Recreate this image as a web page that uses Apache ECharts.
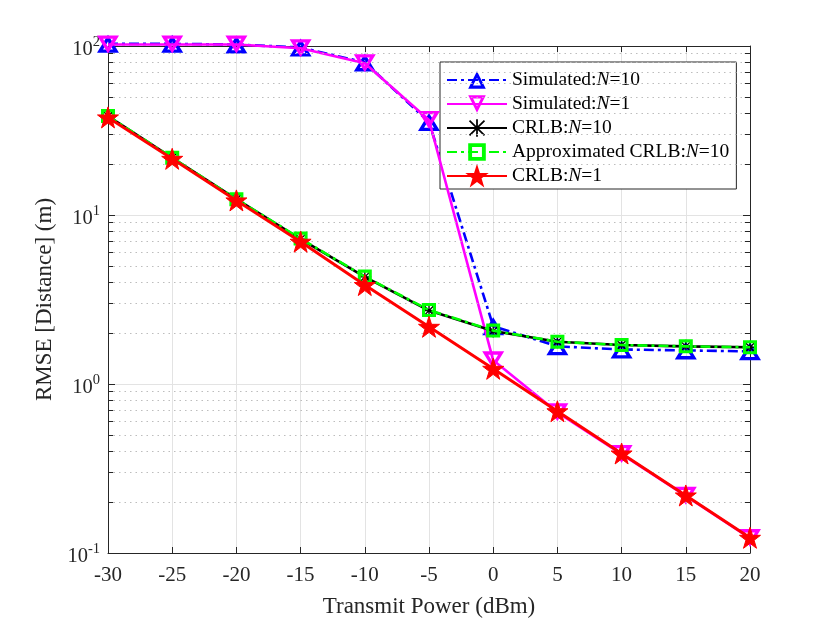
<!DOCTYPE html>
<html>
<head>
<meta charset="utf-8">
<title>RMSE vs Transmit Power</title>
<script src="https://cdn.jsdelivr.net/npm/echarts@6/dist/echarts.min.js"></script>
<style>
  html, body { margin: 0; padding: 0; background: #fff; }
  #chart { width: 830px; height: 623px; }
</style>
</head>
<body>
<div id="chart"></div>
<script>
// transmit power (dBm)
var xPower = [-30, -25, -20, -15, -10, -5, 0, 5, 10, 15, 20];
// RMSE values (m)
var simN10 = [103, 103, 102, 98, 80, 35.5, 2.2, 1.67, 1.6, 1.58, 1.56];
var simN1 = [102, 102, 102, 97, 79, 36.5, 1.38, 0.68, 0.385, 0.218, 0.1225];
var crlbN10 = [38.5, 21.8, 12.4, 7.2, 4.3, 2.72, 2.06, 1.78, 1.7, 1.67, 1.65];
var approxN10 = [38.5, 21.8, 12.4, 7.25, 4.32, 2.74, 2.07, 1.78, 1.7, 1.67, 1.65];
var crlbN1 = [37.8, 21.5, 12.2, 6.95, 3.85, 2.18, 1.23, 0.69, 0.388, 0.219, 0.123];
// minor log grid values
var minorGrid = [0.2, 0.3, 0.4, 0.5, 0.6, 0.7, 0.8, 0.9, 2, 3, 4, 5, 6, 7, 8, 9, 20, 30, 40, 50, 60, 70, 80, 90];
var xMin = -30, xMax = 20;

var FONT = '"Liberation Serif", "DejaVu Serif", serif';
// hollow markers (outer outline + reversed inner = hole)
var TRI_UP = 'path://M50,0 L100,86.6 L0,86.6 Z M50,31.75 L27.5,70.7 L72.5,70.7 Z';
var TRI_DOWN = 'path://M0,0 L100,0 L50,86.6 Z M27.5,15.9 L50,54.85 L72.5,15.9 Z';
var SQUARE = 'path://M0,0 L100,0 L100,100 L0,100 Z M22,22 L22,78 L78,78 L78,22 Z';
var STAR = 'path://M50,0 L61.8,35.4 L99,35.4 L69,57.3 L80.4,92.7 L50,70.8 L19.6,92.7 L31,57.3 L1,35.4 L38.2,35.4 Z';
var ASTER = 'path://M0,4.5 L10,4.5 L10,5.5 L0,5.5 Z M4.5,0 L5.5,0 L5.5,10 L4.5,10 Z M1.1,0.4 L9.6,8.9 L8.9,9.6 L0.4,1.1 Z M8.9,0.4 L9.6,1.1 L1.1,9.6 L0.4,8.9 Z';

function pairs(vals) {
  return xPower.map(function (x, i) { return [x, vals[i]]; });
}

var legendRich = {
  n: { fontFamily: FONT, fontSize: 19.5, color: '#000' },
  i: { fontFamily: FONT, fontSize: 19.5, fontStyle: 'italic', color: '#000' }
};
var legendText = {
  'Simulated:N=10': '{n|Simulated:}{i|N}{n|=10}',
  'Simulated:N=1': '{n|Simulated:}{i|N}{n|=1}',
  'CRLB:N=10': '{n|CRLB:}{i|N}{n|=10}',
  'Approximated CRLB:N=10': '{n|Approximated CRLB:}{i|N}{n|=10}',
  'CRLB:N=1': '{n|CRLB:}{i|N}{n|=1}'
};

// short inside ticks for minor log values on left and right
var minorTicks = [];
minorGrid.forEach(function (v) {
  minorTicks.push([{ coord: [xMin, v] }, { coord: [xMin + 0.4, v] }]);
  minorTicks.push([{ coord: [xMax, v] }, { coord: [xMax - 0.4, v] }]);
});

var chart = echarts.init(document.getElementById('chart'));
var option = {
  backgroundColor: '#fff',
  animation: false,
  grid: { left: 108, right: 80, top: 46, bottom: 69 },
  legend: {
    left: 440, top: 62,
    orient: 'vertical',
    backgroundColor: '#fff',
    borderColor: '#262626', borderWidth: 1, borderRadius: 0,
    padding: [8, 7, 3, 6],
    itemWidth: 60, itemHeight: 22, itemGap: 4,
    data: ['Simulated:N=10', 'Simulated:N=1', 'CRLB:N=10', 'Approximated CRLB:N=10', 'CRLB:N=1'],
    formatter: function (name) { return legendText[name]; },
    textStyle: { rich: legendRich }
  },
  xAxis: [{
    type: 'value', min: xMin, max: xMax, interval: 5,
    name: 'Transmit Power (dBm)', nameLocation: 'middle', nameGap: 42,
    nameTextStyle: { fontFamily: FONT, fontSize: 23, color: '#262626' },
    axisLine: { onZero: false, lineStyle: { color: '#262626', width: 1 } },
    axisTick: { inside: true, length: 6, lineStyle: { color: '#262626' } },
    axisLabel: { fontFamily: FONT, fontSize: 21, color: '#262626', margin: 12 },
    splitLine: { show: true, lineStyle: { color: '#e3e3e3', width: 1 } }
  }, {
    type: 'value', position: 'top', min: xMin, max: xMax, interval: 5,
    axisLine: { onZero: false, lineStyle: { color: '#262626', width: 1 } },
    axisTick: { inside: true, length: 6, lineStyle: { color: '#262626' } },
    axisLabel: { show: false }, splitLine: { show: false }
  }],
  yAxis: [{
    type: 'log', min: 0.1, max: 100, logBase: 10,
    name: 'RMSE [Distance] (m)', nameLocation: 'middle', nameGap: 42,
    nameTextStyle: { fontFamily: FONT, fontSize: 23, color: '#262626' },
    axisLine: { show: true, onZero: false, lineStyle: { color: '#262626', width: 1 } },
    axisTick: { show: true, inside: true, length: 7, lineStyle: { color: '#262626' } },
    axisLabel: {
      margin: 8,
      padding: [8, 0, 0, 0],
      formatter: function (v) {
        return '{b|10}{s|' + Math.round(Math.log10(v)) + '}';
      },
      rich: {
        b: { fontFamily: FONT, fontSize: 20.5, color: '#262626', lineHeight: 30, verticalAlign: 'middle' },
        s: { fontFamily: FONT, fontSize: 14.5, color: '#262626', lineHeight: 14, verticalAlign: 'top' }
      }
    },
    splitLine: { show: true, lineStyle: { color: '#e3e3e3', width: 1 } }
  }, {
    type: 'log', position: 'right', min: 0.1, max: 100, logBase: 10,
    axisLine: { show: true, onZero: false, lineStyle: { color: '#262626', width: 1 } },
    axisTick: { show: true, inside: true, length: 7, lineStyle: { color: '#262626' } },
    axisLabel: { show: false }, splitLine: { show: false }
  }],
  series: [{
    name: 'minor grid', type: 'line', data: [], silent: true, z: 1,
    markLine: {
      silent: true, symbol: 'none', label: { show: false }, animation: false,
      lineStyle: { color: '#bdbdbd', type: [1.5, 4], width: 1 },
      data: minorGrid.map(function (v) { return { yAxis: v }; })
    }
  }, {
    name: 'minor ticks', type: 'line', data: [], silent: true, z: 2,
    markLine: {
      silent: true, symbol: 'none', label: { show: false }, animation: false,
      lineStyle: { color: '#262626', type: 'solid', width: 1 },
      data: minorTicks
    }
  }, {
    name: 'Simulated:N=10', type: 'line', data: pairs(simN10), z: 3, clip: false,
    color: '#0000ff',
    lineStyle: { color: '#0000ff', width: 2.6, type: [10, 4, 3, 4] },
    symbol: TRI_UP, symbolSize: [22, 18],
    itemStyle: { color: '#0000ff', borderWidth: 0 }
  }, {
    name: 'Simulated:N=1', type: 'line', data: pairs(simN1), z: 4, clip: false,
    color: '#ff00ff',
    lineStyle: { color: '#ff00ff', width: 2.6 },
    symbol: TRI_DOWN, symbolSize: [22, 18],
    itemStyle: { color: '#ff00ff', borderWidth: 0 }
  }, {
    name: 'CRLB:N=10', type: 'line', data: pairs(crlbN10), z: 5, clip: false,
    color: '#000',
    lineStyle: { color: '#000', width: 2.6 },
    symbol: ASTER, symbolSize: 13,
    itemStyle: { color: '#000', borderWidth: 0 }
  }, {
    name: 'Approximated CRLB:N=10', type: 'line', data: pairs(approxN10), z: 6, clip: false,
    color: '#00ff00',
    lineStyle: { color: '#00ff00', width: 2.6, type: [10, 4, 3, 4] },
    symbol: SQUARE, symbolSize: 14,
    itemStyle: { color: '#00ff00', borderWidth: 0 }
  }, {
    name: 'CRLB:N=1', type: 'line', data: pairs(crlbN1), z: 7, clip: false,
    color: '#ff0000',
    lineStyle: { color: '#ff0000', width: 3 },
    symbol: STAR, symbolSize: 21,
    itemStyle: { color: '#ff0000', borderColor: '#ff0000', borderWidth: 1 }
  }]
};
chart.setOption(option);
</script>
</body>
</html>
